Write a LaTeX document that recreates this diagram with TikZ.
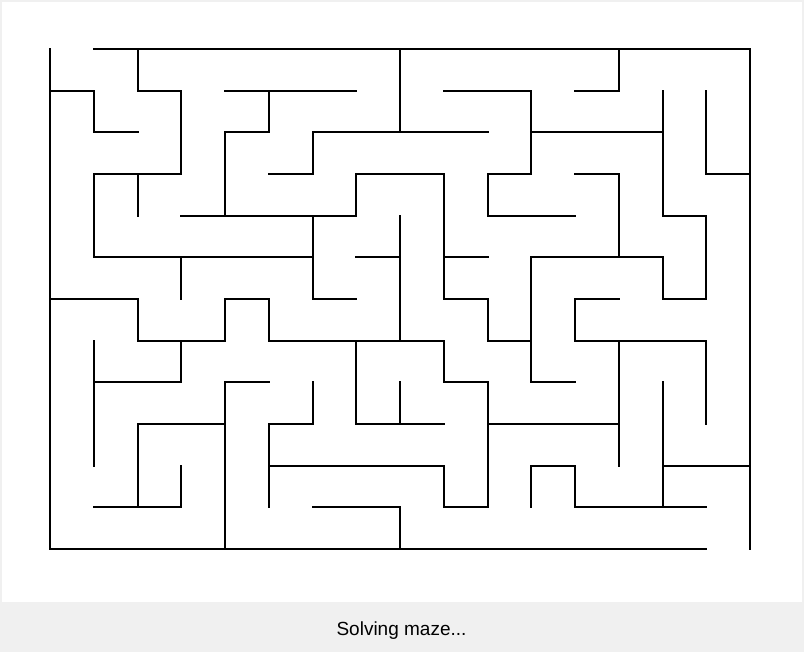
\documentclass[tikz,border=0pt]{standalone}
\usepackage{fontspec}
\setmainfont{Liberation Sans}
\definecolor{panelgray}{HTML}{F0F0F0}

\begin{document}
\begin{tikzpicture}
  [x=1pt, y=-1pt,
   wall/.style={draw=black, line width=2pt, line cap=rect},
   panel/.style={fill=panelgray},
   canvas/.style={fill=white},
   status/.style={font=\fontsize{19}{22}\selectfont, anchor=base, text=black}]

  \def\CellW{43.75pt}
  \def\CellH{41.667pt}

  \useasboundingbox (0,0) rectangle (804,652);
  \fill [panel] (0,0) rectangle (804,652);
  \fill [canvas] (2,2) rectangle (802,602);

  \begin{scope}[shift={(50,49)}, x=\CellW, y=-\CellH]
    % horizontal walls: row/from/to
    \foreach \Row/\From/\To in {0/1/16,
        1/0/1, 1/2/3, 1/4/7, 1/9/11, 1/12/13,
        2/1/2, 2/4/5, 2/6/10, 2/11/14,
        3/1/3, 3/5/6, 3/7/9, 3/10/11, 3/12/13, 3/15/16,
        4/3/7, 4/10/12, 4/14/15,
        5/1/6, 5/7/8, 5/9/10, 5/11/14,
        6/0/2, 6/4/5, 6/6/7, 6/9/10, 6/12/13, 6/14/15,
        7/2/4, 7/5/9, 7/10/11, 7/12/15,
        8/1/3, 8/4/5, 8/9/10, 8/11/12,
        9/2/4, 9/5/6, 9/7/9, 9/10/13,
        10/5/9, 10/11/12, 10/14/16,
        11/1/3, 11/6/8, 11/9/10, 11/12/15,
        12/0/15}
      \draw [wall] (\From,\Row) -- (\To,\Row);

    % vertical walls: column/from/to
    \foreach \Col/\From/\To in {0/0/12,
        1/1/2, 1/3/5, 1/7/10,
        2/0/1, 2/3/4, 2/6/7, 2/9/11,
        3/1/3, 3/5/6, 3/7/8, 3/10/11,
        4/2/4, 4/6/7, 4/8/12,
        5/1/2, 5/6/7, 5/9/11,
        6/2/3, 6/4/6, 6/8/9,
        7/3/4, 7/7/9,
        8/0/2, 8/4/7, 8/8/9, 8/11/12,
        9/3/6, 9/7/8, 9/10/11,
        10/3/4, 10/6/7, 10/8/11,
        11/1/3, 11/5/8, 11/10/11,
        12/6/7, 12/10/11,
        13/0/1, 13/3/5, 13/7/10,
        14/1/4, 14/5/6, 14/8/11,
        15/1/3, 15/4/6, 15/7/9,
        16/0/12}
      \draw [wall] (\Col,\From) -- (\Col,\To);
  \end{scope}

  \node [status] (status) at (401.5,635.5) {Solving maze...};
\end{tikzpicture}
\end{document}
